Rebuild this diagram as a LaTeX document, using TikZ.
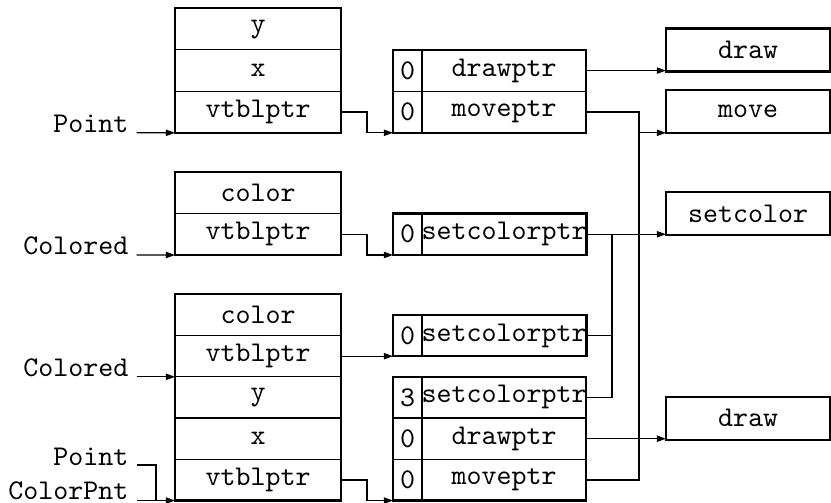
\documentclass[tikz,border=0pt]{standalone}
\usepackage[OT1,TU]{fontenc}
\usetikzlibrary{arrows.meta}
\newcommand{\cmttfont}{\fontencoding{OT1}\fontfamily{cmtt}\selectfont}
\begin{document}
\begin{tikzpicture}[x=0.35pt,y=-0.35pt,
  cell/.style={draw,line width=0.4pt,inner sep=0pt,outer sep=0pt,font=\cmttfont},
  hA/.style={minimum height={41.5*0.35pt}},
  hB/.style={minimum height={41.25*0.35pt}},
  ocell/.style={cell,minimum width={166*0.35pt}},
  icell/.style={cell,minimum width={29*0.35pt}},
  pcell/.style={cell,minimum width={164*0.35pt}},
  frame/.style={draw,line width=0.75pt},
  fbox/.style={draw,line width=0.75pt,inner sep=0pt,outer sep=0pt,
    minimum width={164*0.35pt},minimum height={43*0.35pt},
    font=\cmttfont,anchor=south west},
  lbl/.style={inner sep=0pt,anchor=base east,font=\cmttfont},
  conn/.style={line width=0.4pt},
  arr/.style={conn,-{Triangle[length=3.2pt,width=2.2pt]}}
]
\useasboundingbox (0,0) rectangle (831,502);

% Point object
\node[ocell,hA] (po1) at (258,29.05) {y};
\node[ocell,hA] (po2) at (258,70.55) {x};
\node[ocell,hA] (po3) at (258,112.05) {vtblptr};
\draw[frame] (po1.north west) rectangle (po3.south east);

% Point vtable
\node[icell,hA] (pvi1) at (407.5,70.55) {0};
\node[pcell,hA] (pvd) at (504,70.55) {drawptr};
\node[icell,hA] (pvi2) at (407.5,112.05) {0};
\node[pcell,hA] (pvm) at (504,112.05) {moveptr};
\draw[frame] (pvi1.north west) rectangle (pvm.south east);

% Colored object
\node[ocell,hA] (co1) at (258,192.75) {color};
\node[ocell,hA] (co2) at (258,234.25) {vtblptr};
\draw[frame] (co1.north west) rectangle (co2.south east);

% Colored vtable
\node[icell,hA] (cvi) at (407.5,234.25) {0};
\node[pcell,hA] (cvs) at (504,234.25) {setcolorptr};
\draw[frame] (cvi.north west) rectangle (cvs.south east);

% ColorPnt object
\node[ocell,hB] (cp1) at (258,314.925) {color};
\node[ocell,hB] (cp2) at (258,356.175) {vtblptr};
\node[ocell,hB] (cp3) at (258,397.425) {y};
\node[ocell,hB] (cp4) at (258,438.675) {x};
\node[ocell,hB] (cp5) at (258,479.925) {vtblptr};
\draw[frame] (cp1.north west) rectangle (cp5.south east);

% ColorPnt Colored-part vtable
\node[icell,hA] (ccvi) at (407.5,335.45) {0};
\node[pcell,hA] (ccvs) at (504,335.45) {setcolorptr};
\draw[frame] (ccvi.north west) rectangle (ccvs.south east);

% ColorPnt vtable
\node[icell,hB] (cpvi1) at (407.5,397.425) {3};
\node[pcell,hB] (cpvs) at (504,397.425) {setcolorptr};
\node[icell,hB] (cpvi2) at (407.5,438.675) {0};
\node[pcell,hB] (cpvd) at (504,438.675) {drawptr};
\node[icell,hB] (cpvi3) at (407.5,479.925) {0};
\node[pcell,hB] (cpvm) at (504,479.925) {moveptr};
\draw[frame] (cpvi1.north west) rectangle (cpvm.south east);

% function boxes
\node[fbox] (fdraw) at (666,71.55) {draw};
\node[fbox] (fmove) at (666,132.8) {move};
\node[fbox] (fsetc) at (666,235.25) {setcolor};
\node[fbox] (fdraw2) at (666,439.7) {draw};

% labels
\node[lbl] (lPoint) at (129,132.3) {Point};
\node[lbl] (lColored) at (129,254.5) {Colored};
\node[lbl] (lColored2) at (129,376.3) {Colored};
\node[lbl] (lPoint2) at (129,465) {Point};
\node[lbl] (lColorPnt) at (129,499.3) {ColorPnt};

% free ends and bend columns
\coordinate (sP) at (136.5,132.8);
\coordinate (sC) at (136.5,255);
\coordinate (sC2) at (136.5,376.8);
\coordinate (sP2) at (137,465);
\coordinate (sCP) at (136.5,500.55);
\coordinate (bx1) at (639,0);
\coordinate (bx2) at (612,0);

% label arrows
\draw[arr] (sP) -- (po3.south west);
\draw[arr] (sC) -- (co2.south west);
\draw[arr] (sC2) -- (sC2 -| cp3.west);
\draw[arr] (sCP) -- (cp5.south west);
\draw[conn] (sP2) -- ++(19,0) coordinate (kP2) -- (kP2 |- sCP);

% object to vtable
\draw[arr] (po3.east) -- ++(26,0) |- (pvi2.south west);
\draw[arr] (co2.east) -- ++(26,0) |- (cvi.south west);
\draw[arr] (cp2.east) -- (cp2.east -| ccvi.west);
\draw[arr] (cp5.east) -- ++(26,0) |- (cpvi3.south west);

% vtable to functions
\draw[arr] (pvd.east) -- (pvd.east -| fdraw.west);
\draw[conn] (pvm.east) -| (bx1 |- cpvm.east) -- (cpvm.east);
\draw[arr] (bx1 |- fmove.south west) -- (fmove.south west);
\draw[arr] (cvs.east) -- (cvs.east -| fsetc.west);
\draw[conn] (cvs.east -| bx2) |- (cpvs.east);
\draw[conn] (ccvs.east) -- (ccvs.east -| bx2);
\draw[arr] (cpvd.east) -- (cpvd.east -| fdraw2.west);
\end{tikzpicture}
\end{document}
